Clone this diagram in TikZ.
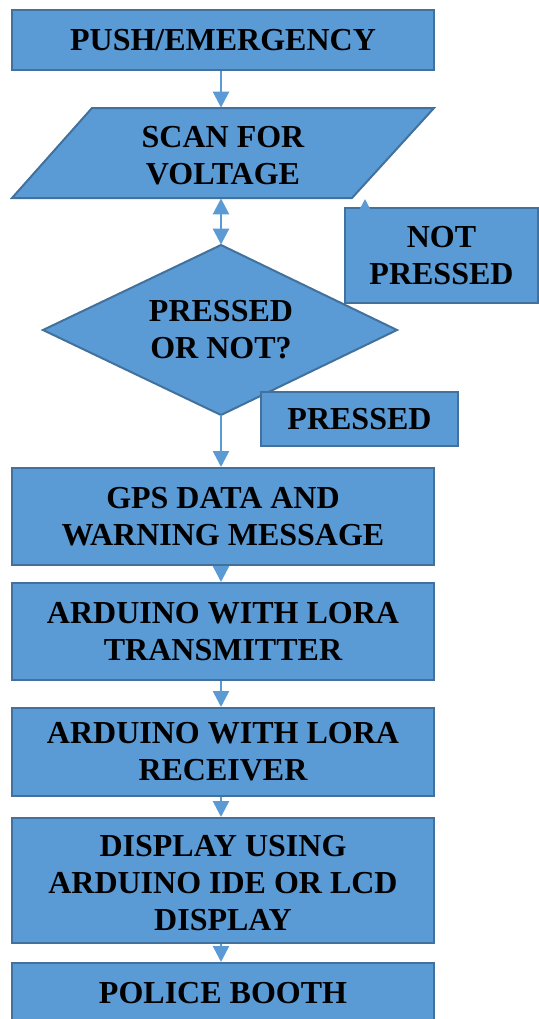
\documentclass[tikz,border=0pt]{standalone}
\usepackage{fontspec}
\setmainfont{Liberation Serif}
\usetikzlibrary{arrows.meta}
\definecolor{boxfill}{HTML}{5B9BD5}
\definecolor{boxline}{HTML}{41719C}
\begin{document}
\begin{tikzpicture}[x=0.5pt,y=-0.5pt,
  box/.style={draw=boxline,fill=boxfill,line width=1pt},
  lbl/.style={align=center,inner sep=0pt,font=\bfseries\fontsize{16pt}{18.5pt}\selectfont},
  rbox/.style={box,lbl,minimum width=211pt},
  arr/.style={draw=boxfill,line width=1.3pt,-{Triangle[width=8pt,length=8pt]}},
  darr/.style={draw=boxfill,line width=1.3pt,{Triangle[width=8pt,length=8pt]}-{Triangle[width=8pt,length=8pt]}}]
\useasboundingbox (0,0) rectangle (538,1019);
% process boxes
\node[rbox,minimum height=30pt] (push) at (223,40) {PUSH/EMERGENCY};
\draw[box] (92,108) -- (434,108) -- (352,198) -- (12,198) -- cycle;
\node[lbl,minimum width=211pt,minimum height=45pt] (scan) at (223,153) {\strut SCAN FOR\\VOLTAGE};
\draw[box] (221,245) -- (397,330) -- (221,415) -- (43,330) -- cycle;
\node[lbl,minimum width=177pt,minimum height=85pt] (dia) at (221,330) {PRESSED\\OR NOT?};
\node[box,lbl,minimum width=96.5pt,minimum height=47.5pt] (notp) at (441.5,255.5) {NOT\\PRESSED};
\node[box,lbl,minimum width=98.5pt,minimum height=27pt] (pressed) at (359.5,419) {PRESSED};
\node[rbox,minimum height=48.5pt] (gps) at (223,516.5) {GPS DATA AND\\WARNING MESSAGE};
\node[rbox,minimum height=48.5pt] (tx) at (223,631.5) {ARDUINO WITH LORA\\TRANSMITTER};
\node[rbox,minimum height=44pt] (rx) at (223,752) {ARDUINO WITH LORA\\RECEIVER};
\node[rbox,minimum height=62.5pt] (disp) at (223,880.5) {\strut DISPLAY USING\\ARDUINO IDE OR LCD\\DISPLAY};
\node[rbox,minimum height=30pt] (police) at (223,993) {POLICE BOOTH};
% connectors
\draw[arr] (push.south -| dia.north) -- (scan.north -| dia.north);
\draw[darr] (scan.south -| dia.north) -- (dia.north);
\draw[arr] (dia.south) -- (gps.north -| dia.south);
\draw[arr] (gps.south -| dia.south) -- (tx.north -| dia.south);
\draw[arr] (tx.south -| dia.south) -- (rx.north -| dia.south);
\draw[arr] (rx.south -| dia.south) -- (disp.north -| dia.south);
\draw[arr] (disp.south -| dia.south) -- (police.north -| dia.south);
\coordinate (notptip) at ([xshift=10.5pt,yshift=4pt]notp.north west);
\draw[arr] ([xshift=10.5pt]notp.north west) -- (notptip);
\end{tikzpicture}
\end{document}
